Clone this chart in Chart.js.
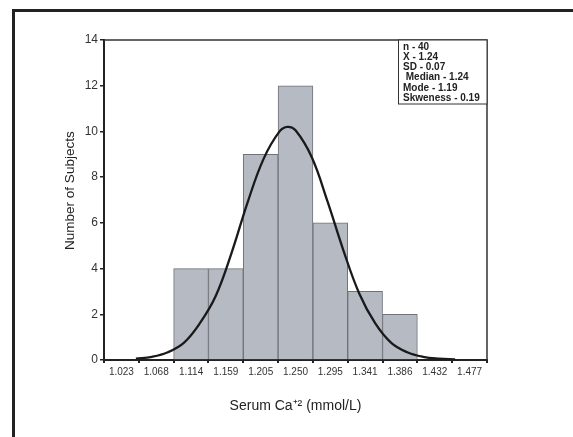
<!DOCTYPE html>
<html>
<head>
<meta charset="utf-8">
<script src="https://cdn.jsdelivr.net/npm/chart.js@4.4.0/dist/chart.umd.min.js"></script>
<style>
  body { margin: 0; background: #fff; }
  #wrap { width: 573px; height: 437px; }
</style>
</head>
<body>
<div id="wrap"><canvas id="histChart" width="573" height="437"></canvas></div>
<script>
// bin centres (tick labels) and counts
var binLabels = ['1.023', '1.068', '1.114', '1.159', '1.205', '1.250', '1.295', '1.341', '1.386', '1.432', '1.477'];
var binCounts = [null, null, 4, 4, 9, 12, 6, 3, 2, null, null];

// fitted normal curve
var curveX = [1.000, 1.025, 1.050, 1.075, 1.100, 1.125, 1.150, 1.175, 1.200, 1.225, 1.2375, 1.250, 1.275, 1.300, 1.325, 1.350, 1.375, 1.400, 1.425, 1.450, 1.475, 1.500];
var curveY = [0.06, 0.14, 0.34, 0.75, 1.6, 2.8, 4.7, 6.9, 8.8, 10.0, 10.2, 10.05, 8.9, 6.95, 4.8, 2.9, 1.6, 0.75, 0.34, 0.14, 0.06, 0.03];

var statsLines = ['n - 40', 'X - 1.24', 'SD - 0.07', ' Median - 1.24', 'Mode - 1.19', 'Skweness - 0.19'];

var framePlugin = {
    id: 'framePlugin',
    afterDraw: function (chart) {
        var c = chart.ctx;
        var a = chart.chartArea;
        c.save();
        // outer frame (top + left)
        c.strokeStyle = '#222';
        c.lineWidth = 3;
        c.beginPath();
        c.moveTo(13.5, 437);
        c.lineTo(13.5, 10.5);
        c.lineTo(573, 10.5);
        c.stroke();
        // plot box top/right
        c.lineWidth = 1.5;
        c.strokeStyle = '#333';
        c.beginPath();
        c.moveTo(a.left, a.top);
        c.lineTo(a.right, a.top);
        c.lineTo(a.right, a.bottom);
        c.stroke();
        // stats box
        c.lineWidth = 1;
        c.fillStyle = '#fff';
        c.fillRect(398, a.top, a.right - 398, 64);
        c.strokeRect(398.5, a.top, a.right - 398.5, 64);
        c.fillStyle = '#222';
        c.font = 'bold 10px "Liberation Sans", Arial, sans-serif';
        c.textBaseline = 'middle';
        statsLines.forEach(function (t, i) {
            c.fillText(t, 403, a.top + 7 + i * 10.2);
        });
        c.restore();
    }
};

var ctx = document.getElementById('histChart').getContext('2d');
var histChart = new Chart(ctx, {
    type: 'bar',
    data: {
        labels: binLabels,
        datasets: [{
            type: 'line',
            label: 'Normal',
            data: curveX.map(function (x, i) { return { x: x, y: curveY[i] }; }),
            xAxisID: 'xc',
            borderColor: '#1a1a1a',
            borderWidth: 2.3,
            pointRadius: 0,
            tension: 0.4,
            fill: false,
            order: 0
        }, {
            label: 'Subjects',
            data: binCounts,
            backgroundColor: '#b5bac3',
            borderColor: '#6f7278',
            borderWidth: 1,
            barPercentage: 1,
            categoryPercentage: 1,
            grouped: false,
            order: 1
        }]
    },
    options: {
        responsive: false,
        animation: false,
        plugins: {
            legend: { display: false },
            tooltip: { enabled: false }
        },
        layout: {
            padding: { left: 58, top: 40, right: 86, bottom: 18 }
        },
        scales: {
            x: {
                type: 'category',
                offset: true,
                grid: { drawOnChartArea: false, tickLength: 3, color: '#222', lineWidth: 2 },
                border: { color: '#222', width: 2 },
                ticks: {
                    color: '#333',
                    font: { family: '"Liberation Sans", Arial, sans-serif', size: 10 },
                    padding: 3,
                    maxRotation: 0,
                    autoSkip: false
                },
                title: {
                    display: true,
                    text: 'Serum Ca\u207A\u00B2 (mmol/L)',
                    color: '#222',
                    font: { family: '"Liberation Sans", Arial, sans-serif', size: 14 }
                },
                afterFit: function (s) { s.height = 59; }
            },
            xc: {
                type: 'linear',
                min: 1.0,
                max: 1.5,
                display: false
            },
            y: {
                min: 0,
                max: 14,
                ticks: {
                    stepSize: 2,
                    color: '#333',
                    font: { family: '"Liberation Sans", Arial, sans-serif', size: 12 },
                    padding: 2
                },
                grid: { drawOnChartArea: false, tickLength: 4, color: '#222', lineWidth: 1.5 },
                border: { color: '#222', width: 2 },
                title: {
                    display: true,
                    text: '     Number of Subjects',
                    color: '#222',
                    font: { family: '"Liberation Sans", Arial, sans-serif', size: 13.5 }
                },
                afterFit: function (s) { s.width = 46; }
            }
        }
    },
    plugins: [framePlugin]
});
</script>
</body>
</html>
